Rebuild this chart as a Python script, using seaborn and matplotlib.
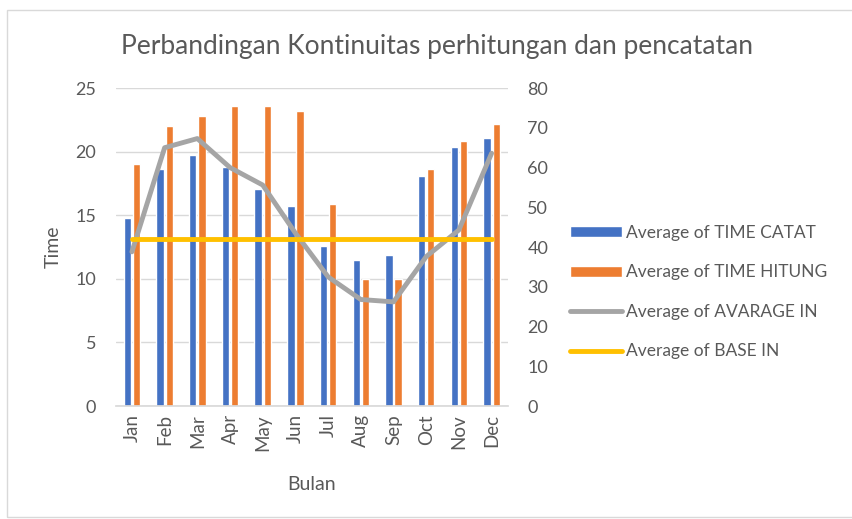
import numpy as np
import pandas as pd
import matplotlib
matplotlib.use("Agg")
import matplotlib.pyplot as plt
from matplotlib.patches import Patch, Rectangle
from matplotlib.lines import Line2D
import seaborn as sns

# data
bulan = ["Jan", "Feb", "Mar", "Apr", "May", "Jun", "Jul", "Aug", "Sep", "Oct", "Nov", "Dec"]
time_catat = [14.8, 18.6, 19.7, 18.8, 17.1, 15.7, 12.6, 11.5, 11.9, 18.1, 20.4, 21.1]
time_hitung = [19.0, 22.0, 22.8, 23.6, 23.6, 23.2, 15.9, 10.0, 10.0, 18.6, 20.8, 22.2]
avarage_in = [38.8, 65.0, 67.3, 60.0, 55.6, 43.5, 32.5, 26.8, 26.2, 37.6, 44.3, 63.6]
base_in = [42, 42, 42, 42, 42, 42, 42, 42, 42, 42, 42, 42]

series_names = ["Average of TIME CATAT", "Average of TIME HITUNG",
                "Average of AVARAGE IN", "Average of BASE IN"]
colors = ["#4472C4", "#ED7D31", "#A5A5A5", "#FFC000"]
txt = "#595959"

sns.set_theme(style="white")
plt.rcParams["font.family"] = ["Lato", "DejaVu Sans"]

bars = pd.DataFrame({
    "Bulan": bulan * 2,
    "Time": time_catat + time_hitung,
    "seri": [series_names[0]] * 12 + [series_names[1]] * 12,
})

fig = plt.figure(figsize=(8.53, 5.19), dpi=100)
ax = fig.add_axes([0.1355, 0.2177, 0.460, 0.6126])

sns.barplot(data=bars, x="Bulan", y="Time", hue="seri", order=bulan,
            palette=colors[:2], width=0.56, gap=0.2, saturation=1,
            legend=False, ax=ax)
ax.set_ylim(0, 25)
ax.set_yticks(range(0, 26, 5))
ax.set_xlim(-0.5, 11.5)
ax.yaxis.grid(True, color="#D9D9D9", lw=1)
ax.set_axisbelow(True)
for s in ["top", "right", "left"]:
    ax.spines[s].set_visible(False)
ax.spines["bottom"].set_color("#D9D9D9")
ax.tick_params(axis="x", labelrotation=90, labelsize=13.5, colors=txt, length=0, pad=6)
ax.tick_params(axis="y", labelsize=13, colors=txt, length=0, pad=14)
ax.set_xlabel("Bulan", fontsize=14, color=txt, labelpad=18)
ax.set_ylabel("Time", fontsize=14, color=txt, labelpad=10)

ax2 = ax.twinx()
x_pos = np.arange(len(bulan))
sns.lineplot(x=x_pos, y=avarage_in, color=colors[2], lw=3.5, sort=False, ax=ax2)
sns.lineplot(x=x_pos, y=base_in, color=colors[3], lw=3.5, sort=False, ax=ax2)
ax2.set_ylim(0, 80)
ax2.set_yticks(range(0, 81, 10))
ax2.set_ylabel("")
for s in ["top", "right", "left", "bottom"]:
    ax2.spines[s].set_visible(False)
ax2.tick_params(axis="y", labelsize=13, colors=txt, length=0, pad=14)

fig.suptitle("Perbandingan Kontinuitas perhitungan dan pencatatan",
             x=0.512, y=0.935, fontsize=19, color=txt)

handles = [
    Patch(facecolor=colors[0]),
    Patch(facecolor=colors[1]),
    Line2D([0], [0], color=colors[2], lw=3.5),
    Line2D([0], [0], color=colors[3], lw=3.5),
]
fig.legend(handles, series_names, loc="center left", bbox_to_anchor=(0.65, 0.437),
           frameon=False, fontsize=12.5, labelcolor=txt, handlelength=3.0,
           handleheight=0.6, handletextpad=0.2, labelspacing=1.35)

fig.patches.append(Rectangle((0.008, 0.004), 1.2, 0.976, transform=fig.transFigure,
                             fill=False, edgecolor="#D9D9D9", lw=1))

fig.savefig("out.png", dpi=100)
